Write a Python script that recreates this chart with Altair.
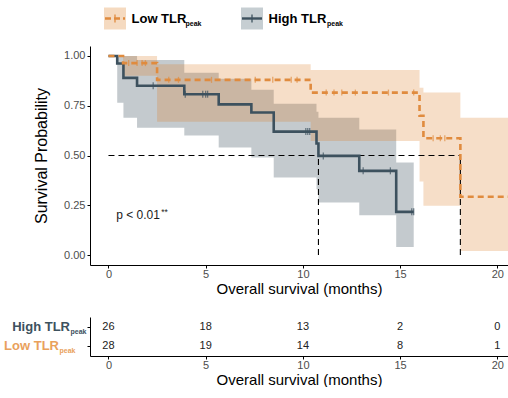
import altair as alt
import pandas as pd

# ---------------- data ----------------
group_names = ["Low TLR", "High TLR"]
subscript = "peak"

high_time = [0, 0.45, 0.77, 1.47, 3.9, 5.67, 7.35, 8.5, 10.7, 10.8, 12.9, 14.8, 15.7]
high_surv = [1.0, 0.962, 0.89, 0.85, 0.808, 0.757, 0.716, 0.62, 0.56, 0.498, 0.423, 0.217, 0.217]
high_lower = [1.0, 0.765, 0.69, 0.64, 0.60, 0.54, 0.49, 0.39, 0.33, 0.264, 0.20, 0.04, 0.04]
high_upper = [1.0, 1.0, 1.0, 0.98, 0.916, 0.886, 0.83, 0.76, 0.72, 0.69, 0.63, 0.465, 0.465]
high_censor = [2.3, 3.95, 4.85, 5.0, 5.1, 10.15, 10.25, 10.35, 11.05, 13.1, 14.5, 15.6, 15.7]

low_time = [0, 0.75, 2.5, 10.4, 16.0, 16.2, 18.1, 20.6]
low_surv = [1.0, 0.964, 0.88, 0.816, 0.70, 0.587, 0.293, 0.293]
low_lower = [1.0, 0.90, 0.67, 0.573, 0.37, 0.247, 0.02, 0.02]
low_upper = [1.0, 1.0, 0.958, 0.93, 0.84, 0.816, 0.69, 0.69]
low_censor = [1.04, 1.47, 1.73, 1.9, 3.1, 3.6, 5.3, 7.55, 8.45, 9.4, 9.7,
              11.2, 11.6, 12.0, 12.7, 14.4, 15.7, 16.7, 17.07, 17.3]

risk_times = [0, 5, 10, 15, 20]
risk_high = [26, 18, 13, 2, 0]
risk_low = [28, 19, 14, 8, 1]

p_text = "p < 0.01"
p_stars = "**"
p_time, p_surv = 0.4, 0.2   # annotation anchor in data units

# ---------------- styles ----------------
FONT = "Liberation Sans"
LOW_LINE = "#E08B3E"
HIGH_LINE = "#3D515E"
LOW_FILL = "#DB7B23"
HIGH_FILL = "#3D515E"
LOW_LABEL = "#E9A15C"
W, H_MAIN, H_RISK = 418, 219, 39


def step_value(times, vals, t):
    v = vals[0]
    for ti, vi in zip(times, vals):
        if ti <= t:
            v = vi
    return v


high_df = pd.DataFrame({"time": high_time, "surv": high_surv,
                        "lower": high_lower, "upper": high_upper})
low_df = pd.DataFrame({"time": low_time, "surv": low_surv,
                       "lower": low_lower, "upper": low_upper})
high_c = pd.DataFrame({"time": high_censor,
                       "surv": [step_value(high_time, high_surv, t) for t in high_censor]})
low_c = pd.DataFrame({"time": low_censor,
                      "surv": [step_value(low_time, low_surv, t) for t in low_censor]})


def median_time(times, vals):
    for t, v in zip(times, vals):
        if v <= 0.5:
            return t
    return None


meds = [m for m in (median_time(high_time, high_surv), median_time(low_time, low_surv)) if m is not None]
med_df = pd.DataFrame({"t0": [0.0] + meds, "t1": [max(meds)] + meds,
                       "s0": [0.5] + [0.0] * len(meds), "s1": [0.5] * (1 + len(meds))})

xscale = alt.Scale(domain=[-0.95, 20.55], nice=False, zero=False)
yscale = alt.Scale(domain=[-0.05, 1.05], nice=False, zero=False)
x_axis = alt.Axis(values=risk_times, title="Overall survival (months)",
                  labelPadding=0, titlePadding=2)
y_axis = alt.Axis(values=[0, 0.25, 0.5, 0.75, 1.0], format=".2f",
                  title="Survival Probability", titlePadding=14, labelPadding=2,
                  titleFontSize=16)

X = alt.X("time:Q", scale=xscale, axis=x_axis)

ribbon_high = alt.Chart(high_df).mark_area(interpolate="step-after", color=HIGH_FILL,
                                           opacity=0.3, clip=True).encode(
    x=X, y=alt.Y("lower:Q", scale=yscale, axis=y_axis), y2="upper:Q")
ribbon_low = alt.Chart(low_df).mark_area(interpolate="step-after", color=LOW_FILL,
                                         opacity=0.25, clip=True).encode(
    x=X, y=alt.Y("lower:Q", scale=yscale, axis=y_axis), y2="upper:Q")

med_rules = alt.Chart(med_df).mark_rule(color="black", strokeWidth=1.1,
                                        strokeDash=[6, 4]).encode(
    x=alt.X("t0:Q", scale=xscale, axis=x_axis), x2="t1:Q",
    y=alt.Y("s0:Q", scale=yscale, axis=y_axis), y2="s1:Q")

line_high = alt.Chart(high_df).mark_line(interpolate="step-after", color=HIGH_LINE,
                                         strokeWidth=2.6, clip=True).encode(
    x=X, y=alt.Y("surv:Q", scale=yscale, axis=y_axis))
line_low = alt.Chart(low_df).mark_line(interpolate="step-after", color=LOW_LINE,
                                       strokeWidth=2.6, strokeDash=[6, 4], clip=True).encode(
    x=X, y=alt.Y("surv:Q", scale=yscale, axis=y_axis))

cens_high = alt.Chart(high_c).mark_tick(color=HIGH_LINE, size=7, thickness=1.3,
                                        orient="vertical").encode(
    x=X, y=alt.Y("surv:Q", scale=yscale, axis=y_axis))
cens_low = alt.Chart(low_c).mark_tick(color=LOW_LINE, size=6, thickness=1.3,
                                      orient="vertical").encode(
    x=X, y=alt.Y("surv:Q", scale=yscale, axis=y_axis))

p_df = pd.DataFrame({"time": [p_time], "surv": [p_surv], "p": [p_text], "s": [p_stars]})
p_main = alt.Chart(p_df).mark_text(align="left", baseline="middle", font=FONT,
                                   fontSize=12, color="#1a1a1a").encode(
    x=X, y=alt.Y("surv:Q", scale=yscale, axis=y_axis), text="p:N")
p_star = alt.Chart(p_df).mark_text(align="left", baseline="middle", font=FONT,
                                   fontSize=8.5, color="#1a1a1a", dx=45, dy=-3).encode(
    x=X, y=alt.Y("surv:Q", scale=yscale, axis=y_axis), text="s:N")

# ---- legend drawn above the plot area (pixel offsets relative to plot origin) ----
leg = pd.DataFrame({"low": [group_names[0]], "high": [group_names[1]], "sub": [subscript]})
base = alt.Chart(leg)
LEG_Y = -27.5
legend_layers = [
    base.mark_rect(color="#F5DAC0").encode(x=alt.value(14), x2=alt.value(36),
                                           y=alt.value(-38.5), y2=alt.value(-16.5)),
    base.mark_rule(color=LOW_LINE, strokeWidth=2.4, strokeDash=[6, 3]).encode(
        x=alt.value(15), x2=alt.value(35), y=alt.value(LEG_Y)),
    base.mark_rule(color=LOW_LINE, strokeWidth=1.3).encode(
        x=alt.value(25), y=alt.value(LEG_Y - 4), y2=alt.value(LEG_Y + 4)),
    base.mark_rect(color="#C6CED2").encode(x=alt.value(151), x2=alt.value(173),
                                           y=alt.value(-38.5), y2=alt.value(-16.5)),
    base.mark_rule(color=HIGH_LINE, strokeWidth=2.4).encode(
        x=alt.value(152), x2=alt.value(172), y=alt.value(LEG_Y)),
    base.mark_rule(color=HIGH_LINE, strokeWidth=1.3).encode(
        x=alt.value(162), y=alt.value(LEG_Y - 4), y2=alt.value(LEG_Y + 4)),
    base.mark_text(align="left", baseline="middle", font=FONT, fontSize=13,
                   fontWeight="bold", color="black").encode(
        x=alt.value(41.5), y=alt.value(LEG_Y), text="low:N"),
    base.mark_text(align="left", baseline="middle", font=FONT, fontSize=7,
                   fontWeight="bold", color="black").encode(
        x=alt.value(95.5), y=alt.value(LEG_Y + 5), text="sub:N"),
    base.mark_text(align="left", baseline="middle", font=FONT, fontSize=13,
                   fontWeight="bold", color="black").encode(
        x=alt.value(178.5), y=alt.value(LEG_Y), text="high:N"),
    base.mark_text(align="left", baseline="middle", font=FONT, fontSize=7,
                   fontWeight="bold", color="black").encode(
        x=alt.value(237), y=alt.value(LEG_Y + 5), text="sub:N"),
    # invisible anchor fixing the top-left corner of the page
    base.mark_rule(opacity=0, strokeWidth=0.1).encode(
        x=alt.value(-90), x2=alt.value(-89.5), y=alt.value(-45.5)),
]

main = alt.layer(ribbon_high, ribbon_low, med_rules, line_high, line_low,
                 cens_high, cens_low, p_main, p_star, *legend_layers).properties(
    width=W, height=H_MAIN)

# ---------------- risk table ----------------
risk_df = pd.DataFrame({
    "time": risk_times * 2,
    "group": [group_names[1]] * len(risk_times) + [group_names[0]] * len(risk_times),
    "n": risk_high + risk_low,
})
row_scale = alt.Scale(type="point", domain=[group_names[1], group_names[0]], padding=0.57)
risk_x_axis = alt.Axis(values=risk_times, title="Overall survival (months)",
                       labelPadding=0, titlePadding=2)
risk_y_axis = alt.Axis(labels=False, title=None, values=[group_names[1], group_names[0]])

risk_nums = alt.Chart(risk_df).mark_text(font=FONT, fontSize=11, color="#222222").encode(
    x=alt.X("time:Q", scale=xscale, axis=risk_x_axis),
    y=alt.Y("group:N", scale=row_scale, axis=risk_y_axis),
    text="n:Q")

lab_df = pd.DataFrame({"group": [group_names[1], group_names[0]], "sub": [subscript] * 2})


def row_label(name, color, right_x, sub_x):
    d = alt.Chart(lab_df).transform_filter(alt.datum.group == name)
    main_t = d.mark_text(align="right", baseline="middle", font=FONT, fontSize=13,
                         fontWeight="bold", color=color).encode(
        x=alt.value(right_x), y=alt.Y("group:N", scale=row_scale, axis=risk_y_axis),
        text="group:N")
    sub_t = d.mark_text(align="left", baseline="middle", font=FONT, fontSize=7,
                        fontWeight="bold", color=color, dy=5).encode(
        x=alt.value(sub_x), y=alt.Y("group:N", scale=row_scale, axis=risk_y_axis),
        text="sub:N")
    return [main_t, sub_t]


risk = alt.layer(risk_nums,
                 *row_label(group_names[1], HIGH_LINE, -20, -19.5),
                 *row_label(group_names[0], LOW_LABEL, -31, -30.5)).properties(
    width=W, height=H_RISK)

chart = alt.vconcat(main, risk, spacing=52, bounds="flush").properties(
    padding={"left": 0, "top": 0, "right": 0, "bottom": 0}
).configure_view(stroke=None).configure_axis(
    grid=False, labelFont=FONT, labelFontSize=11, labelColor="#4D4D4D",
    titleFont=FONT, titleFontSize=15, titleFontWeight="normal", titleColor="black",
    domainColor="black", tickColor="black", tickSize=3, domainWidth=1, tickWidth=1)

chart.save("out.html", embed_options={"renderer": "svg", "actions": False})
